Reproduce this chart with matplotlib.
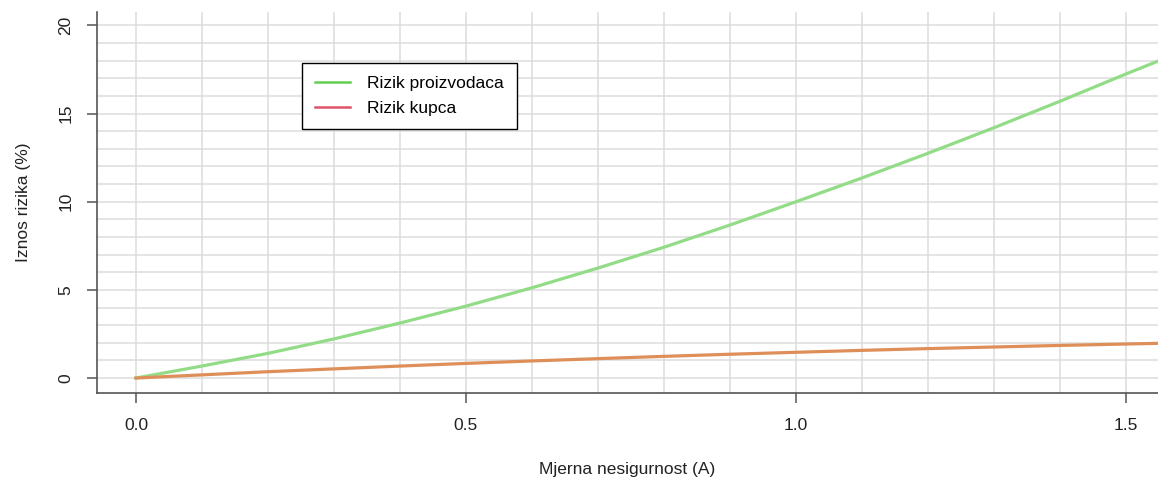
import matplotlib
matplotlib.use("Agg")
import matplotlib.pyplot as plt
from matplotlib.lines import Line2D

plt.rcParams["font.family"] = ["Liberation Sans", "DejaVu Sans"]

# measurement uncertainty (A)
uncertainty = [0.0, 0.1, 0.2, 0.3, 0.4, 0.5, 0.6, 0.7, 0.8, 0.9,
               1.0, 1.1, 1.2, 1.3, 1.4, 1.5, 1.55]
# producer risk (%)
producer_risk = [0.0, 0.68, 1.40, 2.22, 3.12, 4.08, 5.12, 6.24, 7.42, 8.68,
                 10.0, 11.35, 12.75, 14.2, 15.7, 17.25, 18.0]
# consumer risk (%)
consumer_risk = [0.0, 0.18, 0.36, 0.52, 0.68, 0.83, 0.97, 1.10, 1.23, 1.35,
                 1.46, 1.57, 1.67, 1.76, 1.85, 1.93, 1.97]

x_ticks = [0.0, 0.5, 1.0, 1.5]
x_ticklabels = ["0.0", "0.5", "1.0", "1.5"]
y_ticks = [0, 5, 10, 15, 20]

fig = plt.figure(figsize=(11.58, 4.82), dpi=100)
ax = fig.add_axes([0.0838, 0.1846, 0.9162, 0.79])

# light grid: every 0.1 on x, every 1 on y
for gx in [i / 10 for i in range(-1, 17)]:
    ax.axvline(gx, color="#dcdcdc", lw=1.1, zorder=0)
for gy in range(0, 21):
    ax.axhline(gy, color="#dcdcdc", lw=1.1, zorder=0)

ax.plot(uncertainty, producer_risk, color="#93dc87", lw=2.3, zorder=2)
ax.plot(uncertainty, consumer_risk, color="#de8f59", lw=2.3, zorder=3)

ax.set_xlim(-0.059, 1.5485)
ax.set_ylim(-0.85, 20.75)

for side in ("top", "right"):
    ax.spines[side].set_visible(False)
for side in ("left", "bottom"):
    ax.spines[side].set_color("#555555")
    ax.spines[side].set_linewidth(1.2)

ax.set_xticks(x_ticks)
ax.set_xticklabels(x_ticklabels)
ax.set_yticks(y_ticks)
ax.set_yticklabels([str(v) for v in y_ticks], rotation=90, va="center")
ax.tick_params(axis="both", length=7, width=1.1, color="#555555",
               labelsize=12.5, labelcolor="#222222")
ax.tick_params(axis="x", pad=11)
ax.tick_params(axis="y", pad=10)

ax.set_xlabel("Mjerna nesigurnost (A)", fontsize=12.5, color="#222222", labelpad=21)
ax.set_ylabel("Iznos rizika (%)", fontsize=12.5, color="#222222", labelpad=20)

handles = [Line2D([], [], color="#61d04f", lw=1.8),
           Line2D([], [], color="#df536b", lw=1.8)]
leg = ax.legend(handles, ["Rizik proizvodaca", "Rizik kupca"],
                loc="upper left", bbox_to_anchor=(0.193, 0.866),
                fontsize=12.5, fancybox=False, framealpha=1,
                edgecolor="black", handlelength=2.0, handletextpad=1.0,
                borderpad=0.75, labelspacing=0.55, borderaxespad=0)
leg.get_frame().set_linewidth(1.0)

fig.savefig("out.png", dpi=100)
